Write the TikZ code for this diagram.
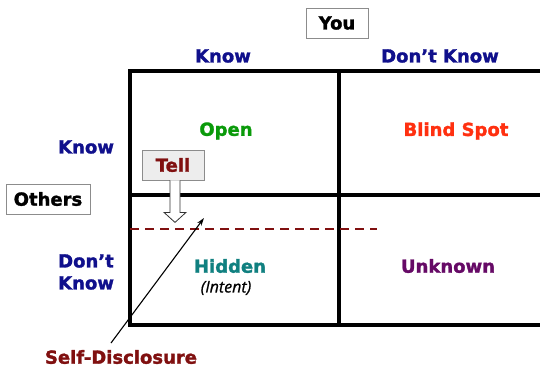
\documentclass[tikz,border=0pt]{standalone}
\usepackage{fontspec}
\setmainfont{DejaVu Sans}
\newfontfamily\heavyfont{DejaVu Sans}[UprightFont={* Bold}, UprightFeatures={FakeBold=1.6}]
\newfontfamily\intentfont{Open Sans}[ItalicFeatures={FakeBold=0.8}]
\usetikzlibrary{arrows.meta}
\definecolor{navyblue}{HTML}{10108C}
\definecolor{opengreen}{HTML}{0A9A0A}
\definecolor{blindred}{HTML}{FF3010}
\definecolor{hiddenteal}{HTML}{108080}
\definecolor{unkpurple}{HTML}{660A66}
\definecolor{darkred}{HTML}{801010}
\definecolor{boxgray}{HTML}{8C8C8C}
\begin{document}
\begin{tikzpicture}[x=1pt,y=-1pt,
  bigtext/.style={font=\heavyfont\fontsize{18}{22}\selectfont, inner sep=0pt},
  headbox/.style={bigtext, draw=boxgray, line width=0.8pt, fill=white, minimum height=30pt},
  gridline/.style={line width=4pt, line join=miter},
  sepline/.style={draw=darkred, line width=1.5pt, dash pattern=on 9pt off 6pt},
  blockarrow/.style={draw=black!80, line width=0.8pt, fill=white, line join=miter}]
\useasboundingbox (0,0) rectangle (540,367);
% grid
\draw[gridline] (545,71) -| (130,325) -- (545,325);
\draw[gridline] (130,195) -- (545,195);
\draw[gridline] (339,71) -- (339,325);
% dashed separation
\coordinate (dashL) at (130,229);
\coordinate (dashR) at (377,229);
\draw[sepline] (dashL) -- (dashR);
% headings
\node[headbox, minimum width=62pt] (you) at (337,23) {You};
\node[headbox, minimum width=84pt] (others) at (48,199) {Others};
\node[bigtext, text=navyblue] (colknow) at (223,56) {Know};
\node[bigtext, text=navyblue] (coldont) at (440,56) {Don’t Know};
\node[bigtext, text=navyblue, anchor=west] (rowknow) at (58,147) {Know};
\node[bigtext, text=navyblue, anchor=west, align=left] (rowdont) at (58,272) {Don’t\\Know};
% quadrants
\node[bigtext, text=opengreen] (open) at (226,131) {Open};
\node[bigtext, text=blindred] (blind) at (456,131) {Blind Spot};
\node[bigtext, text=hiddenteal] (hidden) at (230,266) {Hidden};
\node[inner sep=0pt, font=\intentfont\itshape\fontsize{16}{18}\selectfont] (intent) at (226,288) {(Intent)};
\node[bigtext, text=unkpurple] (unknown) at (448,266) {Unknown};
% tell
\node[bigtext, text=darkred, draw=boxgray, line width=0.8pt, fill=black!7, minimum width=62pt, minimum height=30pt] (tell) at (173,165) {Tell};
\draw[blockarrow] ([xshift=-3pt]tell.south) -- ++(0,32) -- ++(-6,0) -- ++(11,10) -- ++(11,-10) -- ++(-6,0) -- ++(0,-32);
% self-disclosure
\node[bigtext, text=darkred] (self) at (121,357) {Self-Disclosure};
\coordinate (sdstart) at (111,343);
\coordinate (sdtip) at (204,218);
\draw[line width=1.1pt, -{Stealth[length=8pt,width=5pt]}] (sdstart) -- (sdtip);
\end{tikzpicture}
\end{document}
